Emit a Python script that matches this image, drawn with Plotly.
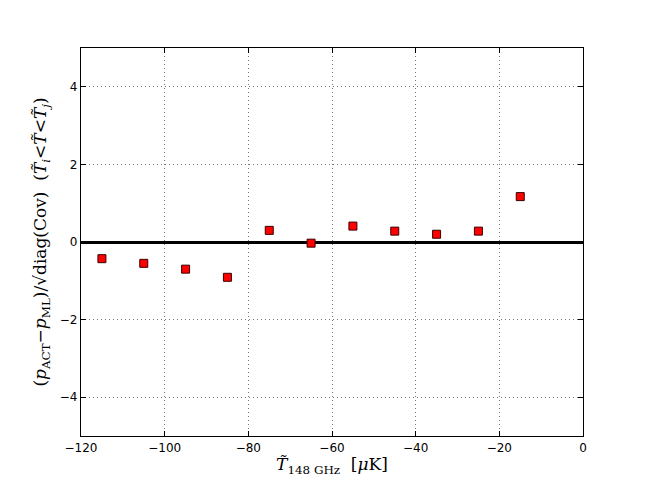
import plotly.graph_objects as go

temp_bins = [-115, -105, -95, -85, -75, -65, -55, -45, -35, -25, -15]
residuals = [-0.43, -0.55, -0.70, -0.91, 0.30, -0.03, 0.41, 0.28, 0.20, 0.28, 1.17]
x_ticks = [-120, -100, -80, -60, -40, -20, 0]
y_ticks = [-4, -2, 0, 2, 4]

fig = go.Figure()
fig.add_trace(go.Scatter(
    x=temp_bins, y=residuals, mode="markers",
    marker=dict(symbol="square", size=8, color="#ff0000",
                line=dict(color="#3a0000", width=1)),
    showlegend=False,
))

tick_font = dict(family="DejaVu Sans", size=12, color="black")
fig.update_layout(
    width=646, height=485,
    margin=dict(l=73, r=71, t=40, b=57),
    paper_bgcolor="white", plot_bgcolor="white",
    xaxis=dict(
        range=[-120, 0], tickvals=x_ticks,
        ticktext=["\u2212120", "\u2212100", "\u221280", "\u221260", "\u221240", "\u221220", "0"],
        ticks="inside", ticklen=5, tickcolor="black",
        showline=True, linecolor="black", linewidth=1.2, mirror="allticks",
        showgrid=True, gridcolor="#777777", griddash="1px,3px", gridwidth=1,
        zeroline=False, tickfont=tick_font,
        title=dict(text="<i>T\u0303</i><sub>148 GHz</sub>  [<i>\u03bc</i>K]",
                   font=dict(family="DejaVu Serif", size=17, color="black"), standoff=4),
    ),
    yaxis=dict(
        range=[-5, 5], tickvals=y_ticks,
        ticktext=["\u22124", "\u22122", "0", "2", "4"],
        ticks="inside", ticklen=5, tickcolor="black",
        showline=True, linecolor="black", linewidth=1.2, mirror="allticks",
        showgrid=True, gridcolor="#777777", griddash="1px,3px", gridwidth=1,
        zeroline=True, zerolinecolor="black", zerolinewidth=2.5,
        tickfont=tick_font,
        title=dict(text="(<i>p</i><sub>ACT</sub>\u2212<i>p</i><sub>ML</sub>)/\u221adiag(Cov)  (<i>T\u0303</i><sub><i>i</i></sub>&lt;<i>T\u0303</i>&lt;<i>T\u0303</i><sub><i>j</i></sub>)",
                   font=dict(family="DejaVu Serif", size=17, color="black"), standoff=8),
    ),
)
fig.write_html("out.html")
